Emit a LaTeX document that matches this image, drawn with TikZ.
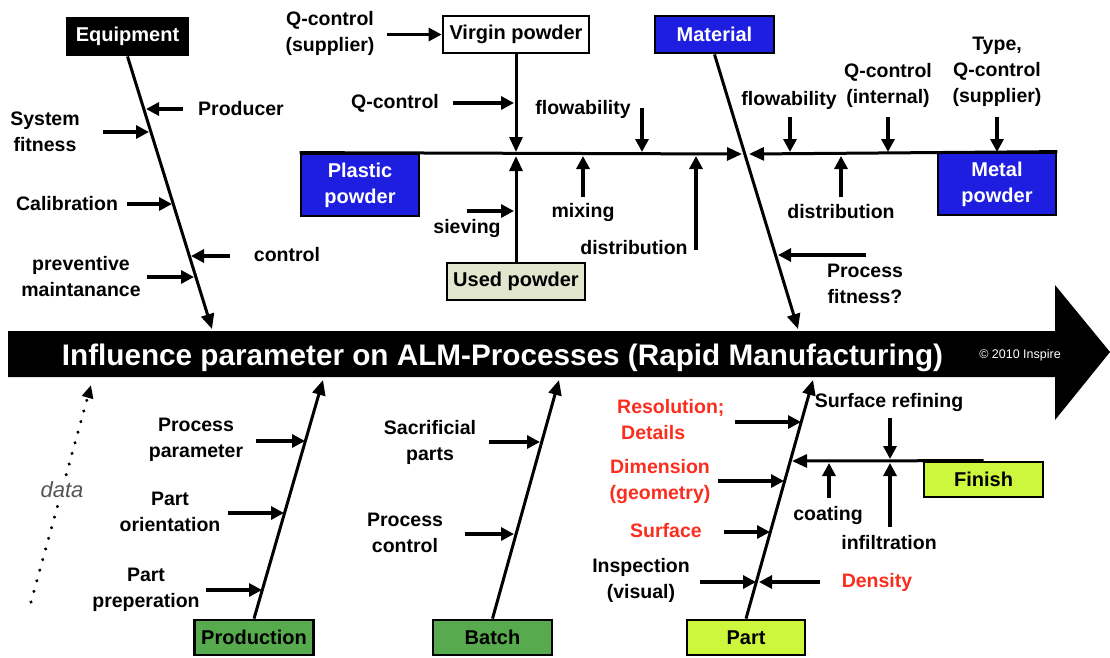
\documentclass[tikz,border=0pt]{standalone}
\usepackage{fontspec}
\setmainfont{Liberation Sans}
\usetikzlibrary{arrows.meta}
\definecolor{boxblue}{RGB}{30,30,225}
\definecolor{boxgreen}{RGB}{88,170,78}
\definecolor{boxlime}{RGB}{204,247,60}
\definecolor{boxbeige}{RGB}{226,230,205}
\definecolor{alertred}{RGB}{250,45,30}
\definecolor{datagray}{RGB}{85,85,85}
\begin{document}
\begin{tikzpicture}[x=1pt,y=-1pt,
  lbl/.style={font=\fontsize{19.5}{26}\selectfont\bfseries, align=center, inner sep=0pt},
  redlbl/.style={lbl, text=alertred},
  boxbase/.style={draw=black, line width=2.8pt, font=\fontsize{20}{26}\selectfont\bfseries,
                  inner sep=0pt, align=center},
  bluebox/.style={boxbase, fill=boxblue, text=white},
  bone/.style={line width=3pt, -{Triangle[length=15pt,width=13pt]}},
  tick/.style={line width=3.2pt, -{Triangle[length=13pt,width=13pt]}},
]
\useasboundingbox (0,0) rectangle (1110,657);

% ---------- main spine ----------
\fill[black] (8,331) -- (1055,331) -- (1055,285) -- (1110,352) -- (1055,420)
             -- (1055,377) -- (8,377) -- cycle;
\node[font=\fontsize{29.7}{30}\selectfont\bfseries, text=white, anchor=base, inner sep=0pt]
  (title) at (502.5,365) {Influence parameter on ALM-Processes (Rapid Manufacturing)};
\node[font=\fontsize{12.5}{13}\selectfont, text=white, inner sep=0pt] (copy) at (1020,355)
  {\textcopyright{} 2010 Inspire};

% ---------- category boxes ----------
\node[boxbase, fill=black, text=white, minimum width=120pt, minimum height=37pt] (eq) at (127.5,36.5) {Equipment};
\node[boxbase, fill=white, minimum width=146pt, minimum height=37pt] (vp) at (516,34.5) {Virgin powder};
\node[bluebox, minimum width=119pt, minimum height=37pt] (mat) at (714.5,34.5) {Material};
\node[bluebox, minimum width=118pt, minimum height=62pt] (pp) at (360,185) {Plastic\\powder};
\node[bluebox, minimum width=118pt, minimum height=62pt] (mp) at (997,184) {Metal\\powder};
\node[boxbase, fill=boxbeige, minimum width=138pt, minimum height=37pt] (up) at (516,281.5) {Used powder};
\node[boxbase, fill=boxgreen, minimum width=119pt, minimum height=35pt] (prod) at (254,637.5) {Production};
\node[boxbase, fill=boxgreen, minimum width=119pt, minimum height=35pt] (batch) at (492.5,637.5) {Batch};
\node[boxbase, fill=boxlime, minimum width=118pt, minimum height=35pt] (part) at (746,637.5) {Part};
\node[boxbase, fill=boxlime, minimum width=119pt, minimum height=35pt] (fin) at (983.5,479.5) {Finish};

% ---------- branch ends ----------
\coordinate (eqEnd) at (212,329);
\coordinate (matEnd) at (798,329);
\coordinate (prodEnd) at (323,380);
\coordinate (batchEnd) at (559,380);
\coordinate (partEnd) at (813,380);
\coordinate (jnL) at (742,154);
\coordinate (jnR) at (749,154);
\coordinate (vpEnd) at (516,152);
\coordinate (upEnd) at (516,156);
\coordinate (finEnd) at (792,461);

\draw[bone] (eq.south) -- (eqEnd);
\draw[bone] (mat.south) -- (matEnd);
\draw[bone] (prod.north) -- (prodEnd);
\draw[bone] (batch.north) -- (batchEnd);
\draw[bone] (part.north) -- (partEnd);
\draw[bone] (pp.north west) -- (jnL);
\draw[bone] (mp.north east) -- (jnR);
\draw[bone] (vp.south) -- (vpEnd);
\draw[bone] (up.north) -- (upEnd);
\draw[bone] (fin.north) -- (finEnd);

% ---------- Equipment ----------
\node[lbl] (producer) at (241,109) {Producer};
\node[lbl] (sysfit) at (45,132) {System\\fitness};
\node[lbl] (calib) at (67,204) {Calibration};
\node[lbl] (ctrl) at (287,255) {control};
\node[lbl] (prevm) at (81,277) {preventive\\maintanance};
\coordinate (e1s) at (183,109); \coordinate (e1e) at (146,109);
\coordinate (e2s) at (103,132); \coordinate (e2e) at (149,132);
\coordinate (e3s) at (127,204); \coordinate (e3e) at (172,204);
\coordinate (e4s) at (230,256); \coordinate (e4e) at (191,256);
\coordinate (e5s) at (147,277); \coordinate (e5e) at (194,277);
\draw[tick] (e1s) -- (e1e);
\draw[tick] (e2s) -- (e2e);
\draw[tick] (e3s) -- (e3e);
\draw[tick] (e4s) -- (e4e);
\draw[tick] (e5s) -- (e5e);

% ---------- Plastic powder ----------
\node[lbl] (qcs) at (330,33) {Q-control\\(supplier)};
\node[lbl] (qc) at (395,103) {Q-control};
\node[lbl] (flowL) at (583,109) {flowability};
\node[lbl] (siev) at (467,228) {sieving};
\node[lbl] (mix) at (583,212) {mixing};
\node[lbl] (distL) at (634,248) {distribution};
\coordinate (p1s) at (387,34.5);
\coordinate (p2s) at (453,103); \coordinate (p2e) at (514,103);
\coordinate (p3s) at (642,108); \coordinate (p3e) at (642,152);
\coordinate (p4s) at (467,211); \coordinate (p4e) at (514,211);
\coordinate (p5s) at (583,197); \coordinate (p5e) at (583,156);
\coordinate (p6s) at (696,250); \coordinate (p6e) at (696,156);
\draw[tick] (p1s) -- (vp.west);
\draw[tick] (p2s) -- (p2e);
\draw[tick] (p3s) -- (p3e);
\draw[tick] (p4s) -- (p4e);
\draw[tick] (p5s) -- (p5e);
\draw[tick] (p6s) -- (p6e);

% ---------- Metal powder / Material ----------
\node[lbl] (flowR) at (789,100) {flowability};
\node[lbl] (qci) at (888,85) {Q-control\\(internal)};
\node[lbl] (typ) at (997,72) {Type,\\Q-control\\(supplier)};
\node[lbl] (distR) at (841,212) {distribution};
\node[lbl] (pfit) at (865,284) {Process\\fitness?};
\coordinate (m1s) at (790,117); \coordinate (m1e) at (790,152);
\coordinate (m2s) at (888,117); \coordinate (m2e) at (888,152);
\coordinate (m3s) at (997,117); \coordinate (m3e) at (997,152);
\coordinate (m4s) at (841,197); \coordinate (m4e) at (841,156);
\coordinate (m5s) at (866,255); \coordinate (m5e) at (778,255);
\draw[tick] (m1s) -- (m1e);
\draw[tick] (m2s) -- (m2e);
\draw[tick] (m3s) -- (m3e);
\draw[tick] (m4s) -- (m4e);
\draw[tick] (m5s) -- (m5e);

% ---------- Production ----------
\node[lbl] (ppar) at (196,440) {Process\\parameter};
\node[lbl] (pori) at (170,512) {Part\\orientation};
\node[lbl] (pprep) at (146,590) {Part\\preperation};
\coordinate (r1s) at (256,441); \coordinate (r1e) at (305,441);
\coordinate (r2s) at (228,513); \coordinate (r2e) at (284,513);
\coordinate (r3s) at (206,590); \coordinate (r3e) at (262,590);
\draw[tick] (r1s) -- (r1e);
\draw[tick] (r2s) -- (r2e);
\draw[tick] (r3s) -- (r3e);

% ---------- Batch ----------
\node[lbl] (sacr) at (430,442) {Sacrificial\\parts};
\node[lbl] (pctl) at (405,533) {Process\\control};
\coordinate (b1s) at (489,442); \coordinate (b1e) at (540,442);
\coordinate (b2s) at (465,534); \coordinate (b2e) at (514,534);
\draw[tick] (b1s) -- (b1e);
\draw[tick] (b2s) -- (b2e);

% ---------- Part ----------
\node[redlbl, align=left, anchor=west] (reso) at (617,420) {Resolution;\\\hspace{4pt}Details};
\node[redlbl] (dime) at (660,481) {Dimension\\(geometry)};
\node[redlbl] (surf) at (666,531) {Surface};
\node[lbl] (insp) at (641,580) {Inspection\\(visual)};
\node[redlbl] (dens) at (877,582) {Density};
\coordinate (t1s) at (735,422); \coordinate (t1e) at (801,422);
\coordinate (t2s) at (718,481); \coordinate (t2e) at (784,481);
\coordinate (t3s) at (724,532); \coordinate (t3e) at (770,532);
\coordinate (t4s) at (700,582); \coordinate (t4e) at (756,582);
\coordinate (t5s) at (820,582); \coordinate (t5e) at (759,582);
\draw[tick] (t1s) -- (t1e);
\draw[tick] (t2s) -- (t2e);
\draw[tick] (t3s) -- (t3e);
\draw[tick] (t4s) -- (t4e);
\draw[tick] (t5s) -- (t5e);

% ---------- Finish ----------
\node[lbl] (sref) at (889,402) {Surface refining};
\node[lbl] (coat) at (828,515) {coating};
\node[lbl] (infl) at (889,543) {infiltration};
\coordinate (f1s) at (890,418); \coordinate (f1e) at (890,459);
\coordinate (f2s) at (829,498); \coordinate (f2e) at (829,463);
\coordinate (f3s) at (890,527); \coordinate (f3e) at (890,463);
\draw[tick] (f1s) -- (f1e);
\draw[tick] (f2s) -- (f2e);
\draw[tick] (f3s) -- (f3e);

% ---------- data flow ----------
\coordinate (dataS) at (31,602);
\coordinate (dataE) at (91,385);
\draw[line width=3.4pt, line cap=round, dash pattern=on 0.01pt off 11pt,
      -{Triangle[length=13pt,width=11pt]}] (dataS) -- (dataE);
\node[font=\fontsize{22}{24}\selectfont\itshape, text=datagray, fill=white, inner sep=3pt]
  (data) at (62,490) {data};
\end{tikzpicture}
\end{document}
